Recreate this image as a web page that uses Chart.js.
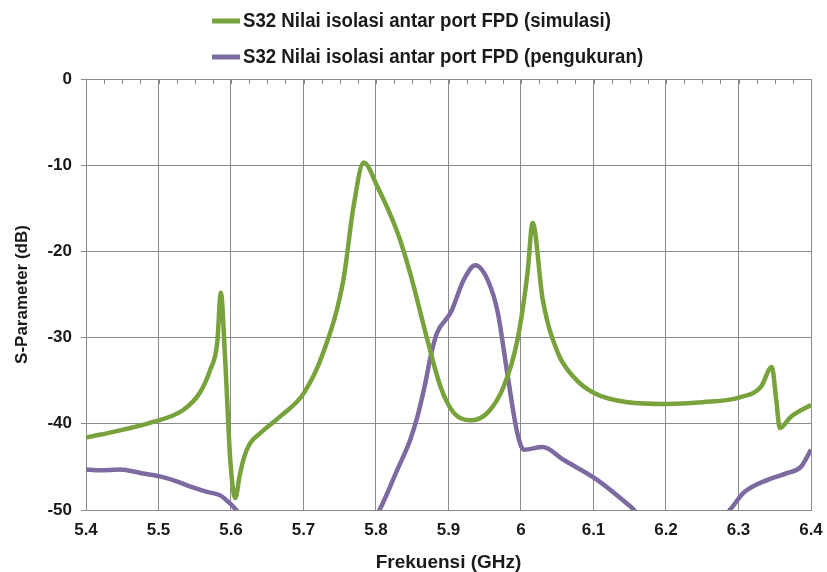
<!DOCTYPE html>
<html>
<head>
<meta charset="utf-8">
<script src="https://cdn.jsdelivr.net/npm/chart.js@4.4.1/dist/chart.umd.min.js"></script>
<style>
  html, body { margin: 0; padding: 0; background: #ffffff; }
  #wrap { width: 827px; height: 572px; }
</style>
</head>
<body>
<div id="wrap"><canvas id="chartCanvas" width="827" height="572"></canvas></div>
<script>
// ---------- Data ----------
const simLabel = "S32 Nilai isolasi antar port FPD (simulasi)";
const measLabel = "S32 Nilai isolasi antar port FPD (pengukuran)";

const simX = [5.40, 5.45, 5.488, 5.534, 5.557, 5.571, 5.581, 5.586, 5.592, 5.599, 5.606, 5.612, 5.618,
    5.626, 5.64, 5.67, 5.70, 5.727, 5.755, 5.769, 5.783, 5.802, 5.830, 5.847, 5.871, 5.889, 5.907, 5.930,
    5.954, 5.976, 5.995, 6.009, 6.016, 6.030, 6.051, 6.073, 6.100, 6.147, 6.20, 6.25, 6.303, 6.331,
    6.346, 6.352, 6.357, 6.372, 6.40];
const simY = [-41.6, -40.7, -39.9, -38.4, -36.4, -33.8, -30.6, -24.8, -32.6, -44.2, -48.6, -46.0, -43.9,
    -42.3, -41.1, -39.0, -36.5, -31.8, -23.3, -14.8, -9.7, -12.5, -17.9, -22.5, -30.3, -35.7, -38.7, -39.6,
    -38.7, -35.7, -30.3, -22.5, -16.7, -25.6, -31.8, -34.6, -36.4, -37.5, -37.7, -37.5, -36.9, -35.7,
    -33.4, -37.2, -40.5, -39.2, -37.8];

const measX = [5.40, 5.419, 5.447, 5.475, 5.502, 5.526, 5.544, 5.567, 5.585, 5.603, 5.62, 5.79, 5.806,
    5.829, 5.847, 5.857, 5.868, 5.875, 5.884, 5.903, 5.921, 5.937, 5.954, 5.968, 5.981, 5.995, 6.004,
    6.030, 6.059, 6.105, 6.151, 6.17, 6.27, 6.290, 6.307, 6.340, 6.368, 6.386, 6.40];
const measY = [-45.3, -45.4, -45.3, -45.7, -46.1, -46.7, -47.3, -47.9, -48.3, -49.6, -51, -52, -49.8,
    -45.4, -41.9, -39.2, -35.3, -32.3, -29.5, -27.1, -23.3, -21.6, -23.3, -27.1, -34.1, -41.1, -43.0,
    -42.7, -44.2, -46.5, -49.6, -51, -51.5, -49.8, -48.0, -46.5, -45.7, -45.0, -43.0];

const xTicks = [5.4, 5.5, 5.6, 5.7, 5.8, 5.9, 6, 6.1, 6.2, 6.3, 6.4];
const yTicks = [0, -10, -20, -30, -40, -50];
const xMinorStep = 0.025;

const GREEN = "#77a23c";
const PURPLE = "#7d6aa0";
const GRID = "#8a8a8a";
const FONT = "'Liberation Sans', Arial, sans-serif";

function toPoints(xs, ys) {
    return xs.map((x, i) => ({ x: x, y: ys[i] }));
}

// ---------- Legend (two stacked rows, like the original) ----------
// the original legend font is tall and narrow, so squeeze it horizontally
const legendPlugin = {
    id: "stackedLegend",
    afterDraw(chart) {
        const ctx = chart.ctx;
        const rows = [21, 57];
        ctx.save();
        ctx.font = "bold 20px " + FONT;
        const squeeze = 368 / ctx.measureText(simLabel).width;
        chart.data.datasets.forEach((ds, i) => {
            const y = rows[i];
            ctx.strokeStyle = ds.borderColor;
            ctx.lineWidth = 5;
            ctx.lineCap = "butt";
            ctx.beginPath();
            ctx.moveTo(212, y);
            ctx.lineTo(240, y);
            ctx.stroke();
            ctx.save();
            ctx.translate(243, y);
            ctx.scale(squeeze, 1);
            ctx.fillStyle = "#1a1a1a";
            ctx.textBaseline = "middle";
            ctx.textAlign = "left";
            ctx.fillText(ds.label, 0, 0);
            ctx.restore();
        });
        ctx.restore();
    }
};

// ---------- Minor tick marks along the top edge ----------
const minorTickPlugin = {
    id: "topMinorTicks",
    afterDatasetsDraw(chart) {
        const xs = chart.scales.x;
        const top = chart.chartArea.top;
        const ctx = chart.ctx;
        ctx.save();
        ctx.strokeStyle = GRID;
        ctx.lineWidth = 1;
        ctx.beginPath();
        for (let v = xs.min; v <= xs.max + 1e-9; v += xMinorStep) {
            const px = Math.round(xs.getPixelForValue(v)) + 0.5;
            ctx.moveTo(px, top);
            ctx.lineTo(px, top + 5);
        }
        ctx.stroke();
        ctx.restore();
    }
};

// ---------- Draw Chart ----------
function drawChart() {
    const ctx = document.getElementById("chartCanvas").getContext("2d");
    new Chart(ctx, {
        type: "line",
        data: {
            datasets: [
                {
                    label: simLabel,
                    data: toPoints(simX, simY),
                    borderColor: GREEN,
                    borderWidth: 4.5,
                    pointRadius: 0,
                    cubicInterpolationMode: "monotone",
                    fill: false
                },
                {
                    label: measLabel,
                    data: toPoints(measX, measY),
                    borderColor: PURPLE,
                    borderWidth: 4.5,
                    pointRadius: 0,
                    cubicInterpolationMode: "monotone",
                    fill: false
                }
            ]
        },
        options: {
            responsive: false,
            animation: false,
            layout: { padding: { left: 0, right: 16, top: 79, bottom: 0 } },
            plugins: {
                legend: { display: false },
                tooltip: { enabled: false }
            },
            scales: {
                x: {
                    type: "linear",
                    min: 5.4,
                    max: 6.4,
                    afterBuildTicks: (scale) => { scale.ticks = xTicks.map(v => ({ value: v })); },
                    afterFit: (scale) => {
                        scale.height = 62;
                        // let the layout padding alone decide the right edge
                        scale.paddingRight = 0;
                        scale.paddingLeft = 0;
                    },
                    grid: { color: GRID, lineWidth: 1, drawTicks: false },
                    border: { color: GRID, width: 1 },
                    ticks: {
                        padding: 10,
                        color: "#1a1a1a",
                        font: { family: FONT, size: 17, weight: "bold" },
                        callback: (v) => String(Math.round(v * 10) / 10)
                    },
                    title: {
                        display: true,
                        text: "Frekuensi (GHz)",
                        color: "#1a1a1a",
                        font: { family: FONT, size: 19, weight: "bold", lineHeight: 1 },
                        padding: { top: 0, bottom: 0 }
                    }
                },
                y: {
                    min: -50,
                    max: 0,
                    afterBuildTicks: (scale) => { scale.ticks = yTicks.map(v => ({ value: v })); },
                    afterFit: (scale) => { scale.width = 86; },
                    grid: { color: GRID, lineWidth: 1, tickLength: 5 },
                    border: { color: GRID, width: 1 },
                    ticks: {
                        padding: 9,
                        color: "#1a1a1a",
                        font: { family: FONT, size: 17, weight: "bold" }
                    },
                    title: {
                        display: true,
                        text: "S-Parameter (dB)",
                        color: "#1a1a1a",
                        font: { family: FONT, size: 17, weight: "bold", lineHeight: 1.2 },
                        padding: { top: 12, bottom: 0 }
                    }
                }
            }
        },
        plugins: [legendPlugin, minorTickPlugin]
    });
}

window.onload = function() {
    drawChart();
};
</script>
</body>
</html>
